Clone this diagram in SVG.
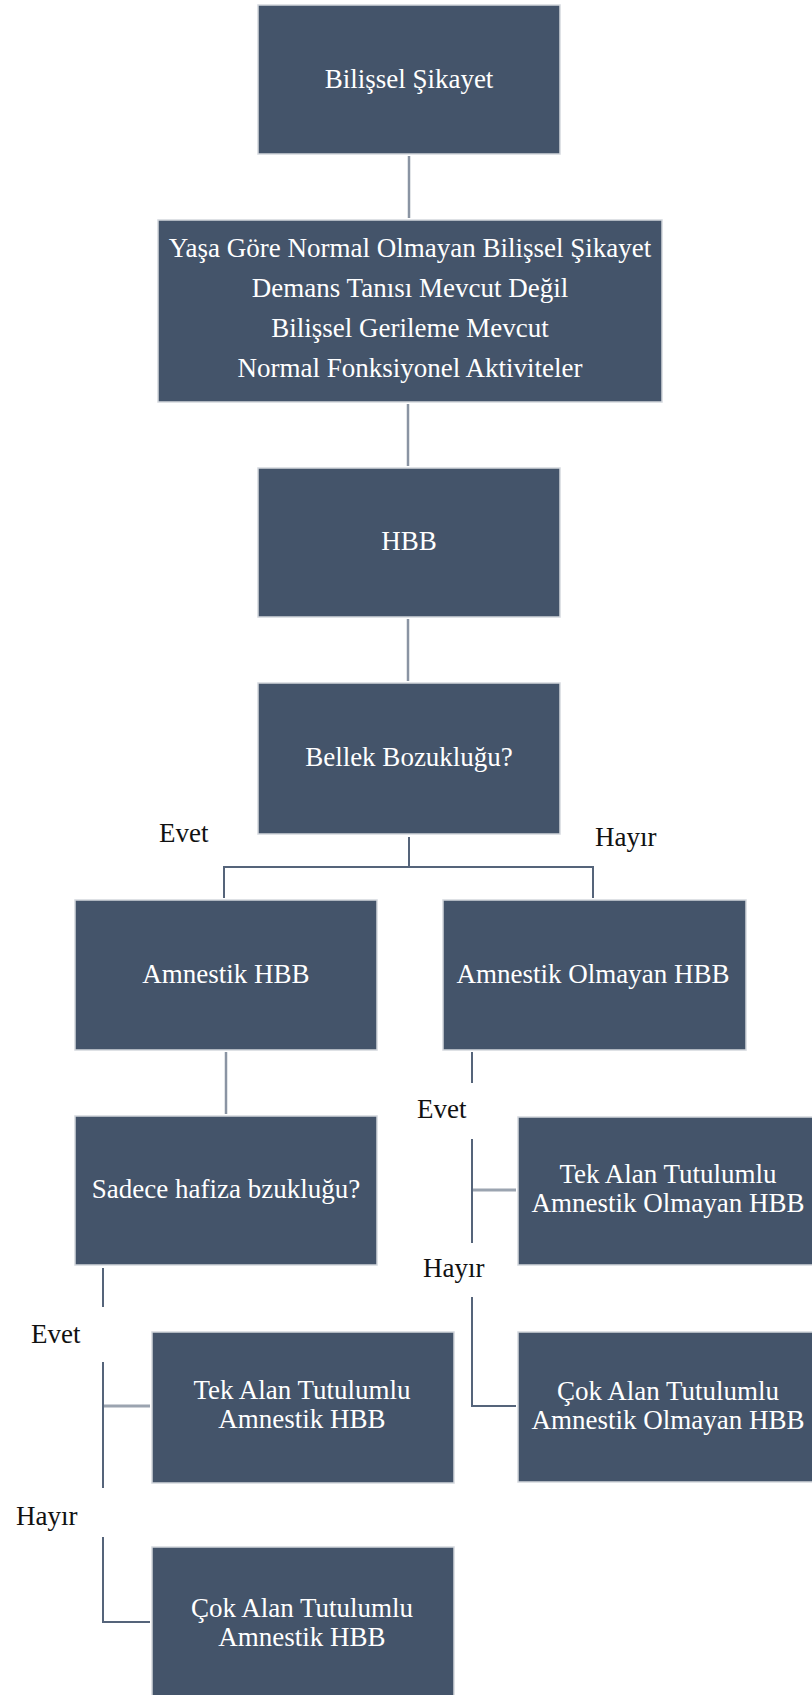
<svg xmlns="http://www.w3.org/2000/svg" width="812" height="1695" viewBox="0 0 812 1695">
<style>
.box{fill:#44546a;stroke:#d3d7dd;stroke-width:1.5}
.t{font-family:"Liberation Serif","Times New Roman",serif;font-size:27px;fill:#ffffff;text-anchor:middle}
.lbl{font-family:"Liberation Serif","Times New Roman",serif;font-size:27px;fill:#111111}
.c1{stroke:#8a94a3;stroke-width:2.5;fill:none}
.c2{stroke:#55647a;stroke-width:2;fill:none}
.c3{stroke:#9ba4b0;stroke-width:3;fill:none}
</style>
<rect width="812" height="1695" fill="#ffffff"/>
<g id="connectors">
<line class="c1" x1="409" y1="156" x2="409" y2="218"/>
<line class="c1" x1="408" y1="404" x2="408" y2="466"/>
<line class="c1" x1="408" y1="619" x2="408" y2="681"/>
<path class="c2" d="M409,837 V867 M224,898 V867 H593 V898"/>
<line class="c1" x1="226" y1="1052" x2="226" y2="1114"/>
<line class="c2" x1="472" y1="1052" x2="472" y2="1083"/>
<line class="c2" x1="472" y1="1139" x2="472" y2="1243"/>
<line class="c3" x1="473" y1="1190" x2="516" y2="1190"/>
<path class="c2" d="M472,1297 V1406 H516"/>
<line class="c2" x1="103" y1="1268" x2="103" y2="1307"/>
<line class="c2" x1="103" y1="1362" x2="103" y2="1488"/>
<line class="c3" x1="104" y1="1406" x2="150" y2="1406"/>
<path class="c2" d="M103,1537 V1622 H150"/>
</g>
<g id="labels">
<text class="lbl" x="159" y="842">Evet</text>
<text class="lbl" x="595" y="846">Hayır</text>
<text class="lbl" x="417" y="1118">Evet</text>
<text class="lbl" x="423" y="1277">Hayır</text>
<text class="lbl" x="31" y="1343">Evet</text>
<text class="lbl" x="16" y="1525">Hayır</text>
</g>
<g id="n1">
<rect class="box" x="258" y="5" width="302" height="149"/>
<text class="t" x="409" y="88">Bilişsel Şikayet</text>
</g>
<g id="n2">
<rect class="box" x="158" y="220" width="504" height="182"/>
<text class="t" x="410" y="257">Yaşa Göre Normal Olmayan Bilişsel Şikayet</text>
<text class="t" x="410" y="297">Demans Tanısı Mevcut Değil</text>
<text class="t" x="410" y="337">Bilişsel Gerileme Mevcut</text>
<text class="t" x="410" y="377">Normal Fonksiyonel Aktiviteler</text>
</g>
<g id="n3">
<rect class="box" x="258" y="468" width="302" height="149"/>
<text class="t" x="409" y="550">HBB</text>
</g>
<g id="n4">
<rect class="box" x="258" y="683" width="302" height="151"/>
<text class="t" x="409" y="766">Bellek Bozukluğu?</text>
</g>
<g id="n5">
<rect class="box" x="75" y="900" width="302" height="150"/>
<text class="t" x="226" y="983">Amnestik HBB</text>
</g>
<g id="n6">
<rect class="box" x="443" y="900" width="303" height="150"/>
<text class="t" x="593" y="983">Amnestik Olmayan HBB</text>
</g>
<g id="n7">
<rect class="box" x="75" y="1116" width="302" height="149"/>
<text class="t" x="226" y="1198">Sadece hafiza bzukluğu?</text>
</g>
<g id="n8">
<rect class="box" x="518" y="1117" width="302" height="148"/>
<text class="t" x="668" y="1183">Tek Alan Tutulumlu</text>
<text class="t" x="668" y="1212">Amnestik Olmayan HBB</text>
</g>
<g id="n9">
<rect class="box" x="518" y="1332" width="302" height="150"/>
<text class="t" x="668" y="1400">Çok Alan Tutulumlu</text>
<text class="t" x="668" y="1429">Amnestik Olmayan HBB</text>
</g>
<g id="n10">
<rect class="box" x="152" y="1332" width="302" height="151"/>
<text class="t" x="302" y="1399">Tek Alan Tutulumlu</text>
<text class="t" x="302" y="1428">Amnestik HBB</text>
</g>
<g id="n11">
<rect class="box" x="152" y="1547" width="302" height="150"/>
<text class="t" x="302" y="1617">Çok Alan Tutulumlu</text>
<text class="t" x="302" y="1646">Amnestik HBB</text>
</g>
</svg>
